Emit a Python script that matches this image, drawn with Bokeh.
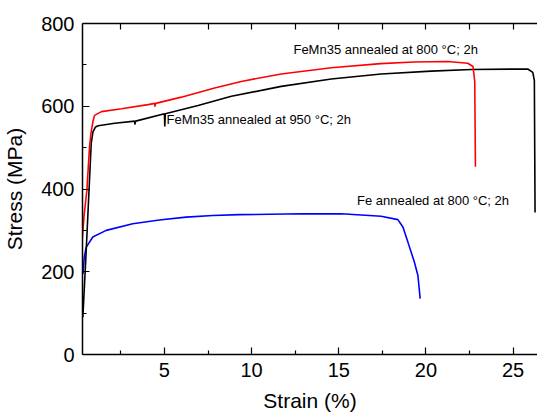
from bokeh.plotting import figure
from bokeh.models import FixedTicker, LinearAxis, Label, Range1d
from bokeh.embed import file_html
from bokeh.resources import INLINE

# FeMn35 annealed at 800 °C; 2h (red)
red_strain = [0.28, 0.40, 0.55, 0.70, 0.78, 0.91, 0.99, 1.39, 2.54, 4.06, 4.45, 4.45, 4.50,
              5.97, 7.88, 9.41, 11.7, 14.57, 17.4, 19.3, 21.25, 22.4, 22.7, 22.8, 22.84]
red_stress = [275, 340, 396, 500, 533, 565, 578, 587, 594, 604, 607, 599, 607,
              622, 644, 660, 678, 693, 703, 707, 708, 704, 696, 660, 454]

# FeMn35 annealed at 950 °C; 2h (black)
blk_strain = [0.32, 0.50, 0.70, 0.80, 0.90, 1.05, 1.20, 2.15, 3.30, 3.30, 3.35, 5.00, 5.02, 5.05,
              6.93, 8.84, 11.7, 14.57, 17.43, 20.3, 22.6, 25.84, 26.13, 26.22, 26.26]
blk_stress = [90, 240, 420, 510, 538, 550, 553, 559, 564, 556, 564, 582, 551, 582,
              602, 624, 648, 666, 678, 685, 689, 690, 682, 662, 343]

# Fe annealed at 800 °C; 2h (blue)
blu_strain = [0.33, 0.40, 0.51, 0.89, 1.66, 3.18, 4.71, 6.24, 7.77, 9.30, 12.85, 15.14, 17.43,
              18.39, 18.68, 18.97, 19.34, 19.54, 19.67]
blu_stress = [195, 235, 259, 284, 300, 316, 325, 332, 336, 338, 340, 340, 334,
              326, 308, 271, 223, 191, 135]

x_major = [5, 10, 15, 20, 25]
x_minor = [2.5, 7.5, 12.5, 17.5, 22.5]
y_major = [0, 200, 400, 600, 800]
y_minor = [100, 300, 500, 700]

labels = ["FeMn35 annealed at 800 °C; 2h", "FeMn35 annealed at 950 °C; 2h", "Fe annealed at 800 °C; 2h"]
label_x = [12.4, 5.12, 16.05]
label_y = [737, 568, 372]

FONT = "Liberation Sans"

p = figure(width=537, height=416, output_backend="svg", toolbar_location=None,
           x_range=Range1d(0.3, 26.4), y_range=Range1d(0, 800),
           min_border_left=81, min_border_right=0, min_border_top=23, min_border_bottom=62)
p.outline_line_color = None
p.grid.visible = False
p.background_fill_color = "white"
p.border_fill_color = "white"

p.line(blu_strain, blu_stress, line_color="#0000ff", line_width=1.6)
p.line(blk_strain, blk_stress, line_color="black", line_width=1.6)
p.line(red_strain, red_stress, line_color="#ff0000", line_width=1.6)

for ax in (p.xaxis[0], p.yaxis[0]):
    ax.major_tick_in = 7
    ax.major_tick_out = 0
    ax.minor_tick_in = 4
    ax.minor_tick_out = 0
    ax.axis_line_width = 1.5
    ax.major_tick_line_width = 1.2
    ax.minor_tick_line_width = 1.2
    ax.major_label_text_font = FONT
    ax.major_label_text_font_size = "20px"
    ax.major_label_text_color = "black"
    ax.axis_label_text_font = FONT
    ax.axis_label_text_font_size = "21px"
    ax.axis_label_text_font_style = "normal"
    ax.axis_label_text_color = "black"
    ax.major_label_standoff = 8

p.xaxis[0].ticker = FixedTicker(ticks=x_major, minor_ticks=x_minor)
p.yaxis[0].ticker = FixedTicker(ticks=y_major, minor_ticks=y_minor)
p.xaxis[0].axis_label = "Strain (%)"
p.yaxis[0].axis_label = "Stress (MPa)"
p.xaxis[0].axis_label_standoff = 9
p.yaxis[0].axis_label_standoff = 12

top_ticks = x_major + x_minor
top = LinearAxis(ticker=FixedTicker(ticks=top_ticks),
                 major_label_overrides={t: "" for t in top_ticks},
                 major_tick_in=6, major_tick_out=0, minor_tick_in=0, minor_tick_out=0,
                 axis_line_width=1.5, major_tick_line_width=1.2, major_label_standoff=0)
p.add_layout(top, "above")

for t, lx, ly in zip(labels, label_x, label_y):
    p.add_layout(Label(x=lx, y=ly, text=t, text_font=FONT, text_font_size="13px",
                       text_color="black", text_baseline="middle", text_align="left"))

open("out.html", "w").write(file_html(p, INLINE))
